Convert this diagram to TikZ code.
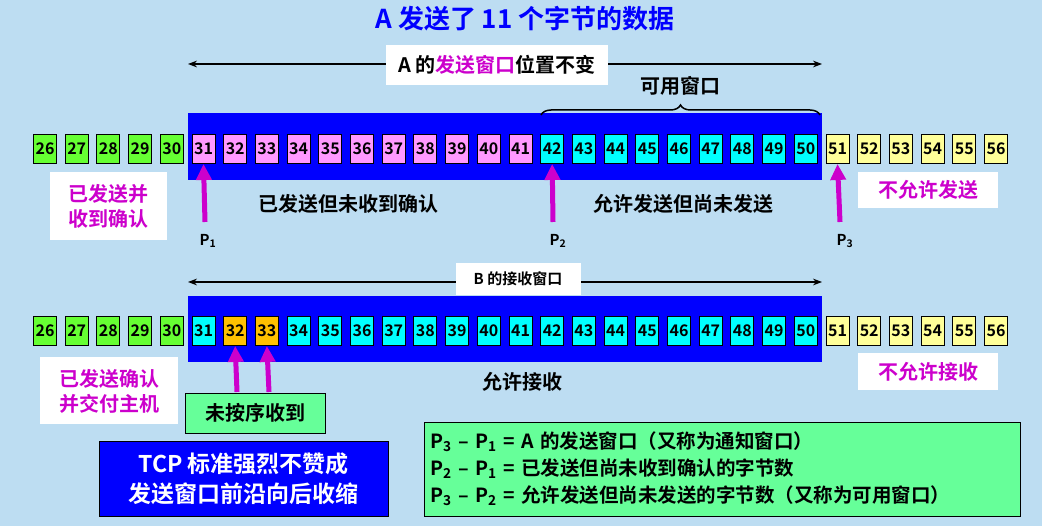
\documentclass[tikz,border=0pt]{standalone}
\usepackage{fontspec}
\setmainfont{Noto Sans CJK SC}[BoldFont={Noto Sans CJK SC Bold}]
\usetikzlibrary{arrows.meta,decorations.pathreplacing}
\definecolor{bg}{HTML}{BDDDF2}
\definecolor{gbox}{HTML}{66FF33}
\definecolor{pbox}{HTML}{FF99FF}
\definecolor{cbox}{HTML}{00FFFF}
\definecolor{ybox}{HTML}{FFFF99}
\definecolor{obox}{HTML}{FFC000}
\definecolor{mag}{HTML}{CC00CC}
\definecolor{lgreen}{HTML}{66FF99}
\tikzset{
 numbox/.style={draw=black,line width=0.9pt,minimum width=23pt,minimum height=29pt,inner sep=0pt,font=\fontsize{16}{16}\selectfont\bfseries},
 win/.style={fill=blue,draw=none},
 ptr/.style={draw=mag,line width=5pt,-{Triangle[length=16pt,width=15pt]}},
 wbox/.style={fill=white,inner sep=4pt,font=\fontsize{20}{25}\selectfont\bfseries},
 lbl/.style={font=\fontsize{20}{24}\selectfont\bfseries},
 dim/.style={line width=1.2pt,{Stealth[length=9pt]}-{Stealth[length=9pt]}},
}
\newcommand{\bx}[1]{45+(#1-26)*31.7}
\begin{document}
\begin{tikzpicture}[x=1pt,y=-1pt]
\fill[bg] (0,0) rectangle (1042,526);
\useasboundingbox (0,0) rectangle (1042,526);
\node[font=\fontsize{26}{30}\selectfont\bfseries,text=blue] (title) at (525,19) {A 发送了 11 个字节的数据};
% top
\fill[win] (188,113) rectangle (822,180);
\fill[win] (188,296) rectangle (822,362);
\foreach \i in {26,...,30}{
 \node[numbox,fill=gbox] (t\i) at ({\bx{\i}},149) {\i};
 \node[numbox,fill=gbox] (b\i) at ({\bx{\i}},331) {\i};}
\foreach \i in {31,...,41}{\node[numbox,fill=pbox] (t\i) at ({\bx{\i}},149) {\i};}
\foreach \i in {42,...,50}{\node[numbox,fill=cbox] (t\i) at ({\bx{\i}},149) {\i};}
\foreach \i in {31,34,35,36,37,38,39,40,41,42,43,44,45,46,47,48,49,50}{\node[numbox,fill=cbox] (b\i) at ({\bx{\i}},331) {\i};}
\foreach \i in {32,33}{\node[numbox,fill=obox] (b\i) at ({\bx{\i}},331) {\i};}
\foreach \i in {51,...,56}{
 \node[numbox,fill=ybox] (t\i) at ({\bx{\i}},149) {\i};
 \node[numbox,fill=ybox] (b\i) at ({\bx{\i}},331) {\i};}
\coordinate (wl) at (188,64); \coordinate (wr) at (822,64);
\draw[dim] (wl) -- (wr);
\node[wbox,inner xsep=12pt,minimum height=40pt] (alab) at (497,65) {A 的\textcolor{mag}{发送窗口}位置不变};
\coordinate (bl) at (541,115); \coordinate (br) at (820,115);
\draw[line width=1.5pt,decorate,decoration={brace,amplitude=10pt}] (bl) -- (br);
\node[lbl] (avail) at (680,86) {可用窗口};
\coordinate (p1s) at (205,222); \coordinate (p2s) at (553,222); \coordinate (p3s) at (840,222);
\draw[ptr] (p1s) -- (t31.south);
\draw[ptr] (p2s) -- (t42.south);
\draw[ptr] (p3s) -- (t51.south);
\node[font=\fontsize{15}{15}\selectfont\bfseries] (P1) at (208,241) {P\textsubscript{1}};
\node[font=\fontsize{15}{15}\selectfont\bfseries] (P2) at (558,241) {P\textsubscript{2}};
\node[font=\fontsize{15}{15}\selectfont\bfseries] (P3) at (845,241) {P\textsubscript{3}};
\node[lbl] (l1) at (348,204) {已发送但未收到确认};
\node[lbl] (l2) at (683,204) {允许发送但尚未发送};
\node[wbox,text=mag,minimum width=140pt,minimum height=36pt] (l3) at (928,190) {不允许发送};
\node[wbox,text=mag,align=center,minimum width=117pt,minimum height=68pt] (l4) at (108,206) {已发送并\\收到确认};
% bottom
\draw[dim] (188,282) -- (822,282);
\node[wbox,font=\fontsize{15}{18}\selectfont\bfseries,minimum width=125pt,minimum height=32pt] (blab) at (518,279) {B 的接收窗口};
\coordinate (q1) at (237,392); \coordinate (q2) at (269,392);
\draw[ptr] (q1) -- (b32.south);
\draw[ptr] (q2) -- (b33.south);
\node[lbl,fill=lgreen,draw=black,minimum width=140pt,minimum height=40pt] (oos) at (255,413) {未按序收到};
\node[lbl] (l5) at (522,382) {允许接收};
\node[wbox,text=mag,minimum width=140pt,minimum height=37pt] (l6) at (928,372) {不允许接收};
\node[wbox,text=mag,align=center,minimum width=138pt,minimum height=67pt] (l7) at (109,391) {已发送确认\\并交付主机};
\node[fill=blue,draw=black,text=white,align=center,font=\fontsize{23}{30}\selectfont\bfseries,minimum width=289pt,minimum height=75pt] (tcp) at (243.5,478.5) {TCP 标准强烈不赞成\\发送窗口前沿向后收缩};
\node[fill=lgreen,draw=black,align=left,font=\fontsize{19.5}{27}\selectfont\bfseries,minimum width=596pt,minimum height=94pt,text width=584pt] (form) at (722,469) {P\textsubscript{3} – P\textsubscript{1} = A 的发送窗口（又称为通知窗口）\\P\textsubscript{2} – P\textsubscript{1} = 已发送但尚未收到确认的字节数\\P\textsubscript{3} – P\textsubscript{2} = 允许发送但尚未发送的字节数（又称为可用窗口）};
\end{tikzpicture}
\end{document}
